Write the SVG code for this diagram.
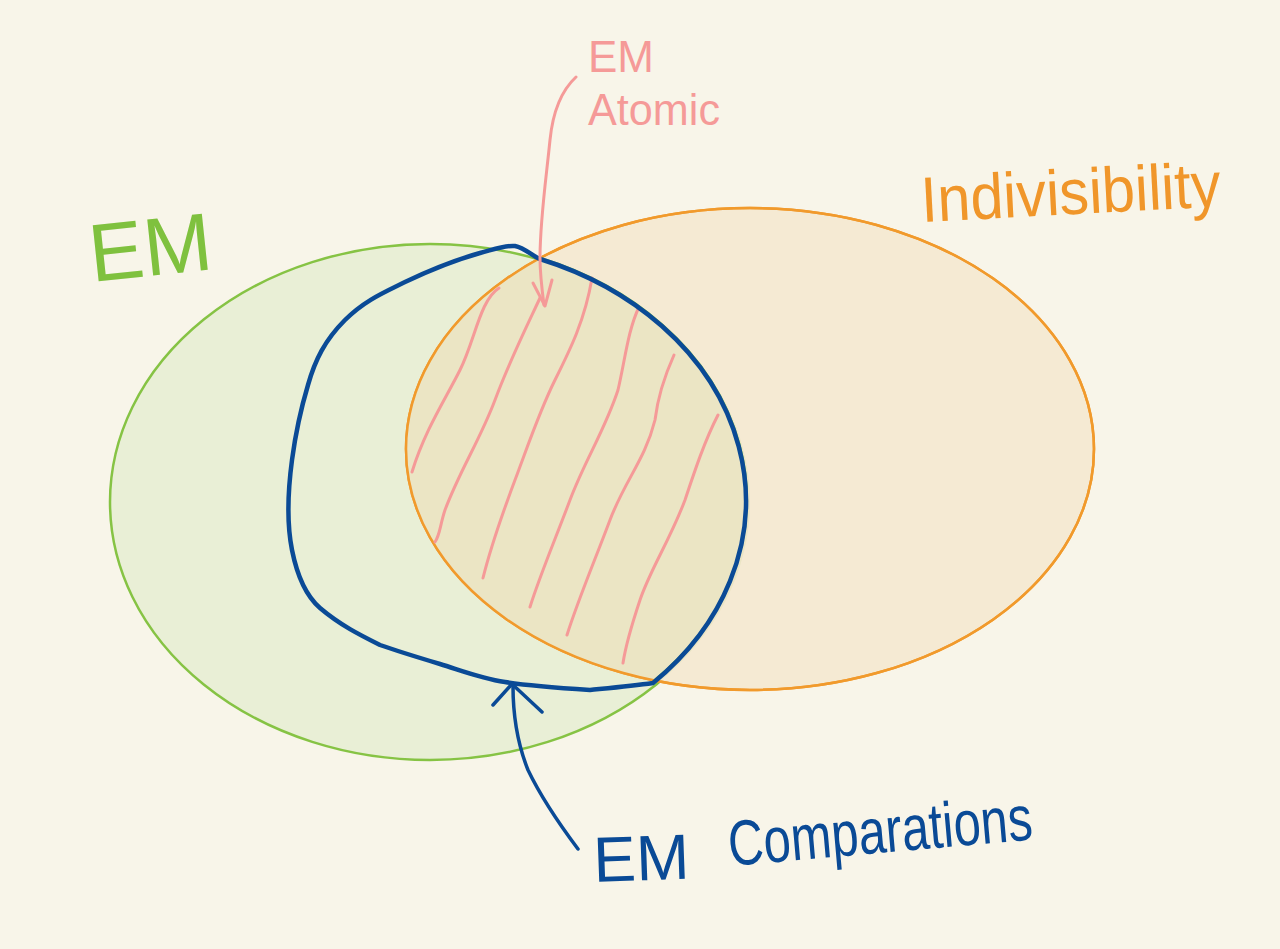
<svg xmlns="http://www.w3.org/2000/svg" width="1280" height="949" viewBox="0 0 1280 949">
<style>
.hand{font-family:"Liberation Sans","DejaVu Sans",sans-serif;font-weight:normal}
.hatch{fill:none;stroke:#f59a98;stroke-width:3;stroke-linecap:round;stroke-linejoin:round}
</style>
<defs>
<clipPath id="clipOrange"><ellipse cx="750" cy="449" rx="344" ry="241"/></clipPath>
</defs>
<rect width="1280" height="949" fill="#f8f5e9"/>
<g id="em-set">
<ellipse cx="430" cy="502" rx="320" ry="258" fill="#e9efd6" stroke="#86c344" stroke-width="2.5"/>
</g>
<g id="indivisibility-set">
<ellipse cx="750" cy="449" rx="344" ry="241" fill="#f5ead3" stroke="#f19a2c" stroke-width="2.5"/>
<ellipse cx="430" cy="502" rx="320" ry="258" fill="#ebe5c4" clip-path="url(#clipOrange)"/>
<ellipse cx="750" cy="449" rx="344" ry="241" fill="none" stroke="#f19a2c" stroke-width="2.5"/>
<path d="M540,258 A320,258 0 0 1 655,680" fill="none" stroke="#86c344" stroke-width="2.5" clip-path="url(#clipOrange)"/>
</g>
<g id="em-atomic-hatching">
<path class="hatch" d="M499,288 C480,300 475,340 460,370 C445,400 425,430 412,472"/>
<path class="hatch" d="M540,298 C525,330 510,360 495,400 C480,440 460,470 445,510 C440,525 440,535 435,542"/>
<path class="hatch" d="M592,278 C585,320 570,350 555,380 C540,410 530,440 515,480 C500,520 490,550 483,578"/>
<path class="hatch" d="M639,307 C628,330 625,360 618,390 C605,430 585,460 570,500 C555,540 540,575 530,607"/>
<path class="hatch" d="M674,355 C665,375 658,395 655,420 C645,460 625,480 610,520 C595,560 578,600 567,635"/>
<path class="hatch" d="M718,415 C705,440 695,470 685,500 C670,540 650,570 640,600 C630,630 625,650 623,663"/>
</g>
<g id="em-comparations-set">
<path d="M515,246 C525,248 532,256 540,259 A321,259 0 0 1 653,683 C632,686 610,688 590,690 C560,688 530,686 505,682 C480,678 460,670 440,664 C420,658 400,652 380,645 C360,635 340,625 320,608 C305,595 297,575 292,550 C286,520 288,490 292,460 C296,430 302,405 308,385 C315,360 325,340 345,320 C365,300 385,292 405,282 C430,270 455,260 480,253 C495,249 505,245 515,246 Z" fill="none" stroke="#0a4a96" stroke-width="4.5" stroke-linejoin="round"/>
</g>
<g id="connectors">
<path d="M578,849 C560,825 540,795 528,770 C518,745 513,715 513,686" fill="none" stroke="#0a4a96" stroke-width="3.5" stroke-linecap="round"/>
<path d="M493,705 L512,684 L542,712" fill="none" stroke="#0a4a96" stroke-width="3.5" stroke-linecap="round" stroke-linejoin="round"/>
<path d="M576,77 C562,90 553,110 550,140 C546,180 540,220 540,258 C540,275 542,290 544,305" fill="none" stroke="#f59a98" stroke-width="3" stroke-linecap="round"/>
<path d="M533,283 L545,306 L552,280" fill="none" stroke="#f59a98" stroke-width="3" stroke-linecap="round" stroke-linejoin="round"/>
</g>
<g id="labels">
<text class="hand" x="92" y="282" font-size="82" fill="#7fc13e" transform="rotate(-6 92 282)">EM</text>
<text class="hand" x="922" y="222" font-size="64" fill="#f0962a" transform="rotate(-3 922 222)" textLength="300" lengthAdjust="spacingAndGlyphs">Indivisibility</text>
<text class="hand" x="588" y="72" font-size="44" fill="#f59a98">EM</text>
<text class="hand" x="588" y="125" font-size="44" fill="#f59a98" textLength="132" lengthAdjust="spacingAndGlyphs">Atomic</text>
<text class="hand" x="594" y="882" font-size="64" fill="#0a4a96" transform="rotate(-2 594 882)">EM</text>
<text class="hand" x="730" y="866" font-size="64" fill="#0a4a96" transform="rotate(-5 730 866)" textLength="305" lengthAdjust="spacingAndGlyphs">Comparations</text>
</g>
</svg>
